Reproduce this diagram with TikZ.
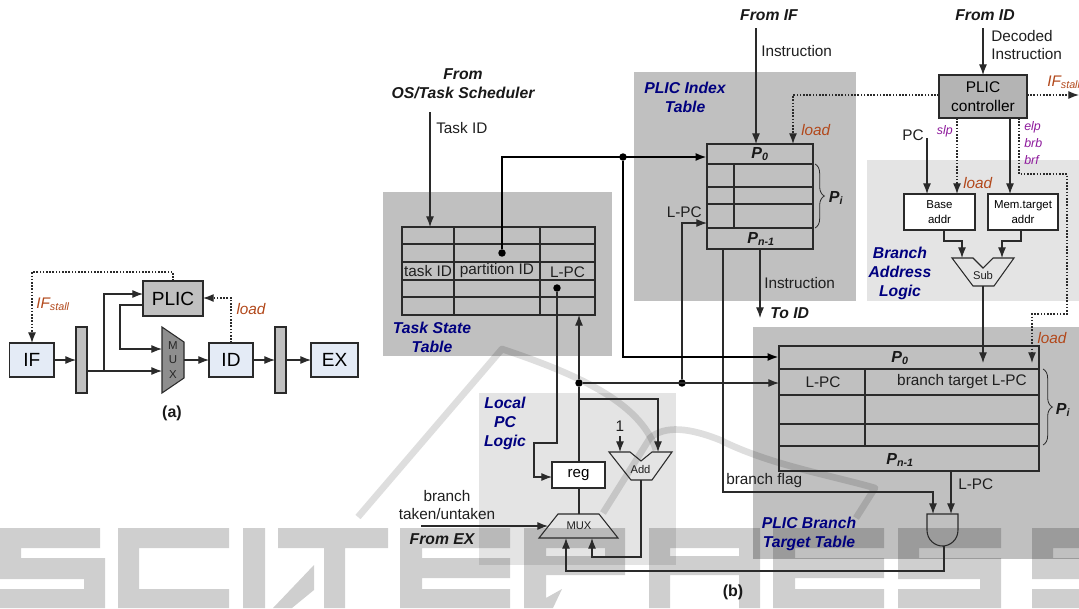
\documentclass[tikz,border=0pt]{standalone}
\usepackage{fontspec}
\setmainfont{Liberation Sans}
\usetikzlibrary{arrows.meta,decorations.pathreplacing}
\definecolor{bgdark}{HTML}{C0C0C0}
\definecolor{bglight}{HTML}{E4E4E4}
\definecolor{stageblue}{HTML}{E4EBF6}
\definecolor{ctrlgrey}{HTML}{B4B4B4}
\definecolor{muxgrey}{HTML}{8E8E8E}
\definecolor{linec}{HTML}{2A2A2A}
\definecolor{loadc}{HTML}{B2481B}
\definecolor{purp}{HTML}{8E1A9C}
\definecolor{navyl}{HTML}{00007F}
\newcommand\pbx[7][]{\node[#1,minimum width={(#5-#3)*0.75pt},minimum height={(#6-#4)*0.75pt}] (#2) at ({(#3+#5)/2},{(#4+#6)/2}) {#7};}
\newcommand\wmr[4]{(#1,#2) rectangle (#3,#4)}
\tikzset{
  sqbox/.style={draw=linec,line width=.8pt,inner sep=0pt,outer sep=0pt,align=center},
  stagebox/.style={sqbox,fill=stageblue,font=\fontsize{14.3}{16}\selectfont},
  latchbox/.style={sqbox,fill=bgdark},
  whitebox/.style={sqbox,fill=white,font=\fontsize{8.6}{11.5}\selectfont},
  region/.style={inner sep=0pt,outer sep=0pt},
  tablebox/.style={sqbox},
  wire/.style={draw=linec,line width=.8pt},
  arr/.style={wire,-{Latex[length=8pt,width=6pt]}},
  thickarr/.style={draw=black,line width=1.9pt,-{Latex[length=8.5pt,width=6pt]}},
  dots/.style={draw=linec,line width=.9pt,dash pattern=on 1.2pt off 1.2pt},
  dotarr/.style={dots,-{Latex[length=8pt,width=6pt]}},
  junct/.style={circle,fill=black,inner sep=0pt,minimum size=5.6pt},
  txt/.style={inner sep=0pt,text=black!88,align=center,font=\fontsize{11.5}{14}\selectfont},
  bi/.style={inner sep=0pt,text=black!90,align=center,font=\fontsize{11.8}{14}\selectfont\bfseries\itshape},
  regionlabel/.style={inner sep=0pt,text=navyl,align=center,font=\fontsize{11.8}{14.2}\selectfont\bfseries\itshape},
  loadlbl/.style={inner sep=0pt,text=loadc,font=\fontsize{11.5}{14}\selectfont\itshape},
  sig/.style={inner sep=0pt,text=purp,align=left,font=\fontsize{9.3}{11.4}\selectfont\itshape},
  small/.style={inner sep=0pt,text=black!88,font=\fontsize{8.4}{10}\selectfont},
  pidx/.style={inner sep=0pt,text=black!90,font=\fontsize{12}{14}\selectfont\bfseries\itshape},
  bracep/.style={draw=linec,line width=.6pt,decorate,decoration={brace,amplitude=7pt}},
  wm/.style={fill=black,fill opacity=.19},
  wmline/.style={draw=black,draw opacity=.13,line width=5pt,line join=round}
}
\begin{document}
\begin{tikzpicture}[x=.75pt,y=-.75pt]
\useasboundingbox (0,0) rectangle (1079,608);
\fill[white] (0,0) rectangle (1079,608);
% regions
\pbx[region,fill=bgdark]{rtask}{383}{192}{612}{356}{}
\pbx[region,fill=bgdark]{rindex}{634}{72}{856}{301}{}
\pbx[region,fill=bglight]{raddr}{867}{160}{1079}{301}{}
\pbx[region,fill=bglight]{rlocal}{479}{393}{676}{565}{}
\pbx[region,fill=bgdark]{rbtt}{753}{327}{1079}{559}{}
% watermark swooshes and letters
\path[wmline] (358,517) -- (502,349) .. controls (570,372) and (640,400) .. (656,450);
\path[wmline] (603,513) -- (650,438) .. controls (665,425) and (690,428) .. (720,440) .. controls (770,465) and (830,475) .. (875,488) -- (856,518);
\fill[wm]
 % S
 \wmr{0}{528}{100}{548} \wmr{0}{528}{21}{578} \wmr{0}{558}{105}{579} \wmr{84}{558}{105}{608} \wmr{0}{589}{105}{608}
 % C
 \wmr{118}{528}{229}{548} \wmr{118}{528}{139}{608} \wmr{118}{589}{229}{608}
 % I
 \wmr{243}{528}{265}{608}
 % T
 \wmr{278}{528}{388}{548} \wmr{324}{528}{345}{608}
 (314,565) -- (314,590) -- (292,608) -- (273,608) -- cycle
 % E
 \wmr{400}{528}{510}{548} \wmr{400}{528}{422}{608} \wmr{400}{558}{510}{578} \wmr{400}{589}{510}{608}
 % P
 \wmr{524}{528}{625}{548} \wmr{524}{528}{546}{608} \wmr{605}{528}{625}{575} \wmr{524}{556}{625}{575}
 (562,589) -- (553,608) -- (546,608) -- (546,598) -- cycle
 % R
 \wmr{649}{528}{760}{548} \wmr{649}{528}{670}{608} \wmr{739}{528}{760}{575} \wmr{649}{556}{760}{575} \wmr{739}{575}{760}{608}
 % E
 \wmr{773}{528}{884}{548} \wmr{773}{528}{795}{608} \wmr{773}{558}{884}{578} \wmr{773}{589}{884}{608}
 % S
 \wmr{898}{528}{1001}{548} \wmr{898}{528}{919}{578} \wmr{898}{558}{1001}{579} \wmr{980}{558}{1001}{608} \wmr{898}{589}{1001}{608}
 % S
 \wmr{1032}{528}{1079}{548} \wmr{1032}{528}{1053}{578} \wmr{1032}{558}{1079}{579} \wmr{1032}{589}{1079}{608};

% ---------- (a)
\pbx[stagebox]{aif}{9.5}{343}{54}{377}{IF}
\pbx[latchbox]{al1}{76}{327}{87}{393}{}
\pbx[stagebox,fill=bgdark]{aplic}{143}{281}{203}{316}{PLIC}
\pbx[stagebox]{aid}{209}{343}{253}{377}{ID}
\pbx[latchbox]{al2}{275}{327}{286}{393}{}
\pbx[stagebox]{aex}{311}{343}{358}{377}{EX}
\draw[wire,fill=muxgrey] (162,327) coordinate (amtl) -- (184,342) -- (184,378) -- (162,393) -- cycle;
\node[inner sep=0pt,align=center,text=black!85,font=\fontsize{8.6}{10.6}\selectfont] (amuxt) at (173,360) {M\\U\\X};
\coordinate (amin1) at (162,349);
\coordinate (amin2) at (162,371);
\coordinate (amout) at (184,360);
\coordinate (aj1) at (104,371);
\coordinate (al1o) at (87,371);
\draw[arr] (aif) -- (al1);
\draw[arr] (al1o) -- (amin2);
\draw[arr] (aj1) |- (aplic.west |- 0,294);
\draw[arr] (aplic.west |- 0,305) -| (120,349) -- (amin1);
\draw[arr] (amout) -- (aid);
\draw[arr] (aid) -- (al2);
\draw[arr] (al2) -- (aex);
\draw[dotarr] (aplic.north -| 173,0) -- (173,272) -| (aif.north -| 32,0);
\draw[dotarr] (aid.north -| 231,0) -- (231,298) -- (aplic.east |- 0,298);
\node[loadlbl] (aifs) at (53,304) {IF\textsubscript{stall}};
\node[loadlbl] (aload) at (251,309) {load};
\node[inner sep=0pt,text=black!90,font=\fontsize{12}{14}\selectfont\bfseries] (acap) at (172,413) {(a)};

% ---------- Task state table
\pbx[tablebox]{tst}{402}{227}{595}{315}{}
\foreach \y in {244,262,280,297} \draw[wire] (tst.west |- 0,\y) -- (tst.east |- 0,\y);
\foreach \x in {454,540} \draw[wire] (tst.north -| \x,0) -- (tst.south -| \x,0);
\node[txt] (ttid) at (428,271) {task ID};
\node[txt] (tpid) at (497,271) {partition ID};
\node[txt] (tlpc) at (567.5,272) {L-PC};
\node[bi] (fromos) at (463,84) {From\\OS/Task Scheduler};
\coordinate (tidin) at (430,112);
\draw[arr] (tidin) -- (tidin |- tst.north);
\node[txt,anchor=west] (tidl) at (436,128) {Task ID};
\node[regionlabel] (ltask) at (432,337.5) {Task State\\Table};

% ---------- Index table
\pbx[tablebox]{idx}{707}{144}{813}{249}{}
\foreach \y in {164,187,204,228} \draw[wire] (idx.west |- 0,\y) -- (idx.east |- 0,\y);
\draw[wire] (734,164) -- (734,228);
\node[pidx] (ip0) at (760,154) {P\textsubscript{0}};
\node[pidx] (ipn) at (761,239) {P\textsubscript{n-1}};
\draw[bracep] (815,164) -- (815,228);
\node[pidx] (ipi) at (836,198) {P\textsubscript{i}};
\node[regionlabel] (lindex) at (685,97) {PLIC Index\\Table};
\node[bi] (fromif) at (769,15) {From IF};
\coordinate (ifin) at (756,28);
\draw[arr] (ifin) -- (ifin |- idx.north);
\node[txt,anchor=west] (ifl) at (761,51) {Instruction};
\coordinate (iout) at (760,249);
\coordinate (iend) at (760,318);
\draw[arr] (iout) -- (iend);
\node[txt,anchor=west] (il2) at (764,283) {Instruction};
\node[bi,anchor=west] (toid) at (770,313) {To ID};
\node[txt,anchor=east] (ilpc) at (702,212) {L-PC};
\node[loadlbl,anchor=west] (iload) at (801,130) {load};

% ---------- Controller
\pbx[stagebox,fill=ctrlgrey,font=\fontsize{11.6}{14.2}\selectfont]{ctl}{939}{75}{1027}{118}{PLIC\\controller}
\node[bi] (fromid) at (985,15) {From ID};
\coordinate (idin) at (983,28);
\draw[arr] (idin) -- (idin |- ctl.north);
\node[txt,anchor=west,align=left] (decl) at (991,45) {Decoded\\Instruction};
\coordinate (ifsout) at (1079,95);
\draw[dotarr] (ctl.east |- ifsout) -- (ifsout);
\node[loadlbl,anchor=west] (ifs2) at (1047,82) {IF\textsubscript{stall}};
\draw[dotarr] (ctl.west |- 0,95) -| (793,144);
% address logic
\pbx[whitebox]{base}{904}{194}{975}{230}{Base\\addr}
\pbx[whitebox]{mem}{988}{194}{1058}{230}{Mem.target\\addr}
\coordinate (pcc) at (927,138);
\draw[arr] (pcc) -- (pcc |- base.north);
\node[txt] (pcl) at (913,135) {PC};
\draw[dotarr] (ctl.south -| 957,0) -- (base.north -| 957,0);
\draw[arr] (ctl.south -| 1010,0) -- (mem.north -| 1010,0);
\node[sig,anchor=east] (slp) at (953,131) {slp};
\node[loadlbl,anchor=west] (bload) at (963,183) {load};
\node[sig,anchor=west] (sigs) at (1024,143) {elp\\[1.2pt]brb\\[1.2pt]brf};
\draw[wire] (952,258) coordinate (stl) -- (973,258) -- (983,268) -- (993,258) -- (1014,258) -- (994,286) -- (973,286) -- cycle;
\node[small] (subl) at (983,275) {Sub};
\coordinate (subi1) at (962,258);
\coordinate (subi2) at (1002,258);
\coordinate (subo) at (983,286);
\draw[arr] (base.south -| 944,0) |- (962,241) -- (subi1);
\draw[arr] (mem.south -| 1021,0) |- (1002,241) -- (subi2);
\node[regionlabel] (laddr) at (900,273.5) {Branch\\Address\\Logic};

% ---------- Branch target table
\pbx[tablebox]{btt}{779}{346}{1039}{471}{}
\foreach \y in {369,395,424,446} \draw[wire] (btt.west |- 0,\y) -- (btt.east |- 0,\y);
\draw[wire] (865,369) -- (865,446);
\node[pidx] (bp0) at (900,358) {P\textsubscript{0}};
\node[pidx] (bpn) at (900,460) {P\textsubscript{n-1}};
\node[txt] (blpc) at (823,382) {L-PC};
\node[txt] (btgt) at (962,382) {branch target L-PC};
\draw[bracep] (1043,369) -- (1043,445);
\node[pidx] (bpi) at (1063,410) {P\textsubscript{i}};
\node[loadlbl] (bl2) at (1052,338) {load};
\coordinate (subend) at (983,363);
\draw[arr] (subo) -- (subend);
\coordinate (eend) at (1032,363);
\draw[dotarr] (ctl.south -| 1019,0) |- (1067,174) |- (1032,314) -- (eend);
\node[regionlabel] (lbtt) at (809,534) {PLIC Branch\\Target Table};
% AND
\draw[wire] (927,514) coordinate (andtl) -- (927,530) .. controls (927,540) and (935,546) .. (942.5,546) .. controls (950,546) and (958,540) .. (958,530) -- (958,514) -- cycle;
\coordinate (andi1) at (933,514);
\coordinate (andi2) at (951,514);
\coordinate (ando) at (944,546);
\draw[arr] (btt.south -| andi2) -- (andi2);
\node[txt,anchor=west] (lpco) at (958,484) {L-PC};
\draw[arr] (idx.south -| 723,0) |- (933,492) -- (andi1);
\node[txt,anchor=west] (bfl) at (726,481) {branch flag};

% ---------- Local PC logic
\node[regionlabel] (llocal) at (505,423.5) {Local\\PC\\Logic};
\pbx[sqbox,fill=white,font=\fontsize{11.3}{14}\selectfont]{reg}{552}{462}{605}{488}{reg}
\draw[wire] (558,514) coordinate (mtl) -- (599,514) -- (618,538) -- (539,538) -- cycle;
\node[small] (muxl) at (579,526) {MUX};
\coordinate (muxt) at (579,514);
\coordinate (muxi) at (548,526);
\coordinate (muxb1) at (566,538);
\coordinate (muxb2) at (592,538);
\draw[wire] (609,452) coordinate (atl) -- (630,452) -- (641,461) -- (652,452) -- (672,452) -- (652,480) -- (631,480) -- cycle;
\node[small] (addl) at (640.5,469) {Add};
\coordinate (addi1) at (620,452);
\coordinate (addi2) at (658,452);
\coordinate (addo) at (641,480);
\node[txt] (one) at (620,426) {1};
\draw[arr] (620,436) -- (addi1);
% bus
\node[junct] (j579) at (579,383) {};
\node[junct] (j682) at (682,383) {};
\draw[arr] (j579) -- (btt.west |- j579);
\draw[arr] (j579) -- (tst.south -| j579);
\draw[wire] (j579) -- (reg.north -| j579);
\draw[wire] (reg.south -| muxt) -- (muxt);
\draw[arr] (579,399) -| (addi2);
\draw[arr] (j682) |- (idx.west |- 0,223);
\node[junct] (dlpc) at (557,288) {};
\draw[arr] (dlpc) |- (534,443) |- (reg.west |- 0,477);
\draw[arr] (addo) |- (592,557) -- (muxb2);
\draw[arr] (ando) |- (566,571) -- (muxb1);
\coordinate (bin) at (421,526);
\draw[arr] (bin) -- (muxi);
\node[txt] (bt) at (447,505) {branch\\taken/untaken};
\node[bi] (fex) at (442,539) {From EX};
% thick
\node[junct] (dpid) at (502,253) {};
\node[junct] (j623) at (623,157) {};
\draw[thickarr] (dpid) |- (idx.west |- 0,157);
\draw[thickarr] (j623) |- (btt.west |- 0,357);
\node[inner sep=0pt,text=black!90,font=\fontsize{12}{14}\selectfont\bfseries] (bcap) at (733,592) {(b)};
\end{tikzpicture}
\end{document}
